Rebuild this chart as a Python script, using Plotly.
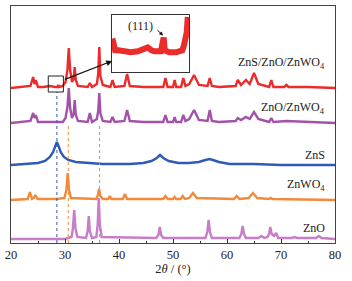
import plotly.graph_objects as go

# ---------------- data (2θ in degrees, intensity above each pattern's baseline, a.u.) -------------
red_x = [20, 22, 23.6, 24.1, 24.35, 24.6, 25.0, 26.0, 27.2, 28.2, 28.6, 28.75, 28.9, 29.6, 30.1, 30.45,
         30.7, 30.95, 31.3, 31.6, 31.8, 32.0, 32.4, 34.2, 34.6, 35.0, 35.9, 36.15, 36.35, 36.55, 37.0,
         38.4, 38.8, 39.2, 41.0, 41.5, 42.0, 44.5, 48.2, 48.6, 49.0, 50.0, 50.3, 50.6, 51.5, 51.9, 52.3,
         53.0, 53.9, 54.8, 56.4, 56.8, 57.2, 58.5, 61.6, 62.0, 62.6, 63.5, 64.2, 65.0, 65.8, 67.8, 68.2,
         68.6, 70.6, 71.0, 71.4, 75.0, 80.0]
red_y = [0, 1, 2, 11, 4, 8, 1, 1, 2, 1, 1, 3, 1, 2, 6, 18,
         40, 18, 6, 9, 21, 8, 2, 1, 5, 1, 4, 14, 41, 12, 3,
         1, 8, 1, 2, 14, 2, 1, 1, 10, 1, 1, 8, 1, 1, 10, 2,
         4, 13, 3, 2, 10, 2, 1, 2, 8, 3, 8, 4, 15, 4, 1, 8,
         1, 1, 3, 1, 1, 0]

pur_x = [20, 22, 23.6, 24.1, 24.35, 24.6, 25.0, 27.0, 29.6, 30.1, 30.45, 30.7, 30.95, 31.3, 31.6, 31.8,
         32.0, 32.4, 34.2, 34.6, 35.0, 35.9, 36.15, 36.35, 36.55, 37.0, 38.4, 38.8, 39.2, 41.0, 41.5,
         42.0, 44.5, 48.2, 48.6, 49.0, 50.0, 50.3, 50.6, 51.5, 51.9, 52.3, 53.0, 53.9, 54.8, 56.4, 56.8,
         57.2, 58.5, 61.6, 62.0, 62.6, 63.5, 64.2, 65.0, 65.8, 67.8, 68.2, 68.6, 71.0, 75.0, 80.0]
pur_y = [0, 1, 2, 10, 5, 8, 1, 1, 1, 5, 16, 35, 15, 5, 9, 23,
         8, 2, 1, 10, 1, 4, 12, 30, 10, 2, 1, 6, 1, 2, 13,
         2, 1, 1, 8, 1, 1, 6, 1, 1, 8, 2, 4, 13, 3, 2, 13,
         2, 1, 2, 5, 3, 6, 4, 11, 4, 1, 5, 1, 2, 1, 0]

zns_x = [20, 23, 25, 26.3, 27.2, 27.8, 28.2, 28.5, 28.8, 29.2, 29.8, 30.6, 32, 34, 37, 42, 44.5, 46,
         47, 47.6, 48.2, 49.2, 51, 53, 54.8, 56, 56.7, 57.4, 58.5, 60.5, 65, 70, 80]
zns_y = [0, 1, 2, 4, 8, 13, 19, 23, 19, 13, 8, 5, 3, 2, 1, 1, 2, 4,
         7, 10, 7, 4, 2, 2, 3, 5, 6, 5, 3, 1, 1, 0, 0]

zw_x = [20, 23.1, 23.5, 23.9, 24.2, 24.5, 24.9, 28.5, 29.9, 30.25, 30.5, 30.75, 31.1, 35.8, 36.1, 36.3,
        36.55, 37.0, 38.0, 38.3, 38.6, 40.7, 41.1, 41.5, 48.2, 48.6, 49.0, 50.0, 50.3, 50.6, 51.4, 51.8,
        52.2, 53.0, 53.7, 54.4, 61.3, 61.8, 62.3, 64.0, 64.8, 65.6, 67.8, 68.1, 68.4, 80]
zw_y = [0, 1, 8, 1, 2, 5, 1, 1, 2, 10, 27, 10, 2, 1, 5, 11,
        4, 1, 1, 4, 1, 1, 6, 1, 1, 4, 1, 1, 3, 1, 1, 4,
        1, 2, 7, 2, 1, 4, 1, 2, 7, 2, 1, 2, 1, 0]

zno_x = [20, 30, 31.2, 31.45, 31.7, 31.95, 32.3, 33.9, 34.2, 34.4, 34.6, 35.0, 35.8, 36.05, 36.25, 36.45,
         36.8, 46.9, 47.3, 47.55, 47.8, 48.2, 56.0, 56.35, 56.6, 56.85, 57.2, 62.3, 62.65, 62.9, 63.15,
         63.5, 65.8, 66.4, 66.9, 67.5, 67.8, 68.0, 68.3, 68.7, 69.1, 69.5, 72.0, 72.5, 73, 76.5, 77, 77.5, 80]
zno_y = [0, 0, 2, 10, 29, 10, 2, 1, 8, 23, 8, 1, 2, 14, 41, 14,
         2, 1, 4, 12, 4, 1, 1, 7, 19, 7, 1, 1, 5, 13, 5,
         1, 1, 3, 1, 2, 5, 12, 5, 3, 6, 1, 1, 2, 1, 1, 3, 1, 0]

# magnified region (inset) of the composite pattern
ins_x = [26.91, 26.94, 27.01, 27.13, 27.37, 27.58, 27.84, 28.05, 28.20, 28.34, 28.44, 28.68, 28.75,
         28.78, 28.82, 28.98, 29.23, 29.46, 29.52, 29.62, 29.66]
ins_y = [34, 26, 22, 22, 21, 20, 21, 23, 25, 22, 21, 21, 34,
         35, 22, 20, 20, 22, 27, 40, 56]

labels = ["ZnS/ZnO/ZnWO<sub>4</sub>", "ZnO/ZnWO<sub>4</sub>", "ZnS", "ZnWO<sub>4</sub>", "ZnO"]
x_ticks = [20, 30, 40, 50, 60, 70, 80]

# ---------------- style / layout --------------------------------------------
series = [
    (red_x, red_y, 155, "#ec2b2b", labels[0]),
    (pur_x, pur_y, 120, "#a352aa", labels[1]),
    (zns_x, zns_y, 78, "#2f5bb6", labels[2]),
    (zw_x, zw_y, 43, "#f28a3a", labels[3]),
    (zno_x, zno_y, 4, "#c77dc8", labels[4]),
]
label_y = [180, 135, 88, 58, 15]
FONT = "Liberation Serif"

fig = go.Figure()
for (xs, ys, off, col, name) in series:
    fig.add_trace(go.Scatter(x=xs, y=[v + off for v in ys], mode="lines",
                             line=dict(color=col, width=2.4), showlegend=False, hoverinfo="skip"))

fig.add_trace(go.Scatter(x=ins_x, y=ins_y, mode="lines", xaxis="x2", yaxis="y2",
                         line=dict(color="#ec2b2b", width=6), showlegend=False, hoverinfo="skip"))

for (s, ly) in zip(series, label_y):
    fig.add_annotation(x=78.6, y=ly, text=s[4], showarrow=False, xanchor="right", yanchor="middle",
                       font=dict(family=FONT, size=12, color="#222"))

# dotted reference lines
fig.add_shape(type="line", x0=28.5, x1=28.5, y0=0, y1=151, line=dict(color="#2f5bb6", width=1, dash="dot"))
fig.add_shape(type="line", x0=30.6, x1=30.6, y0=0, y1=120, line=dict(color="#f28a3a", width=1, dash="dot"))
fig.add_shape(type="line", x0=36.4, x1=36.4, y0=0, y1=118, line=dict(color="#c77dc8", width=1, dash="dot"))
# small selection box
fig.add_shape(type="rect", x0=26.9, x1=29.7, y0=151, y1=167, line=dict(color="#222", width=1))
# arrow from box to inset
fig.add_annotation(x=38.75, y=182, ax=29.7, ay=163, axref="x", ayref="y", xref="x", yref="y",
                   showarrow=True, arrowhead=2, arrowsize=1, arrowwidth=1.2, arrowcolor="#111", text="")
# inset label and arrow
fig.add_annotation(x=27.92, y=47, xref="x2", yref="y2", text="(111)", showarrow=False,
                   font=dict(family=FONT, size=12, color="#222"))
fig.add_annotation(x=28.76, y=37, ax=28.5, ay=44, xref="x2", yref="y2", axref="x2", ayref="y2",
                   showarrow=True, arrowhead=2, arrowsize=0.8, arrowwidth=1, arrowcolor="#111", text="")

fig.update_layout(
    width=352, height=281,
    margin=dict(l=11, r=17, t=6, b=38),
    paper_bgcolor="white", plot_bgcolor="white",
    font=dict(family=FONT, size=12, color="#222"),
    xaxis=dict(range=[20, 80], tickvals=x_ticks, ticks="inside", ticklen=4, tickcolor="#333",
               showline=True, linecolor="#444", linewidth=1, mirror=True, showgrid=False, zeroline=False,
               minor=dict(ticks="inside", ticklen=2, dtick=5, tickcolor="#333"),
               tickfont=dict(family=FONT, size=12.5, color="#222"),
               title=dict(text="2<i>θ</i> / (°)", font=dict(family=FONT, size=12.5, color="#222"), standoff=2)),
    yaxis=dict(range=[0, 237], showticklabels=False, ticks="", showline=True, linecolor="#444",
               linewidth=1, mirror=True, showgrid=False, zeroline=False),
    xaxis2=dict(domain=[0.312, 0.549], anchor="y2", range=[26.9, 29.7], showticklabels=False, ticks="",
                showline=True, linecolor="#333", linewidth=1, mirror=True, showgrid=False, zeroline=False),
    yaxis2=dict(domain=[0.722, 0.962], anchor="x2", range=[0, 58], showticklabels=False, ticks="",
                showline=True, linecolor="#333", linewidth=1, mirror=True, showgrid=False, zeroline=False),
)

fig.write_html("out.html", config={"displayModeBar": False},
               post_script="document.body.style.margin='0';document.body.style.padding='0';"
                           "document.documentElement.style.overflow='hidden';")
